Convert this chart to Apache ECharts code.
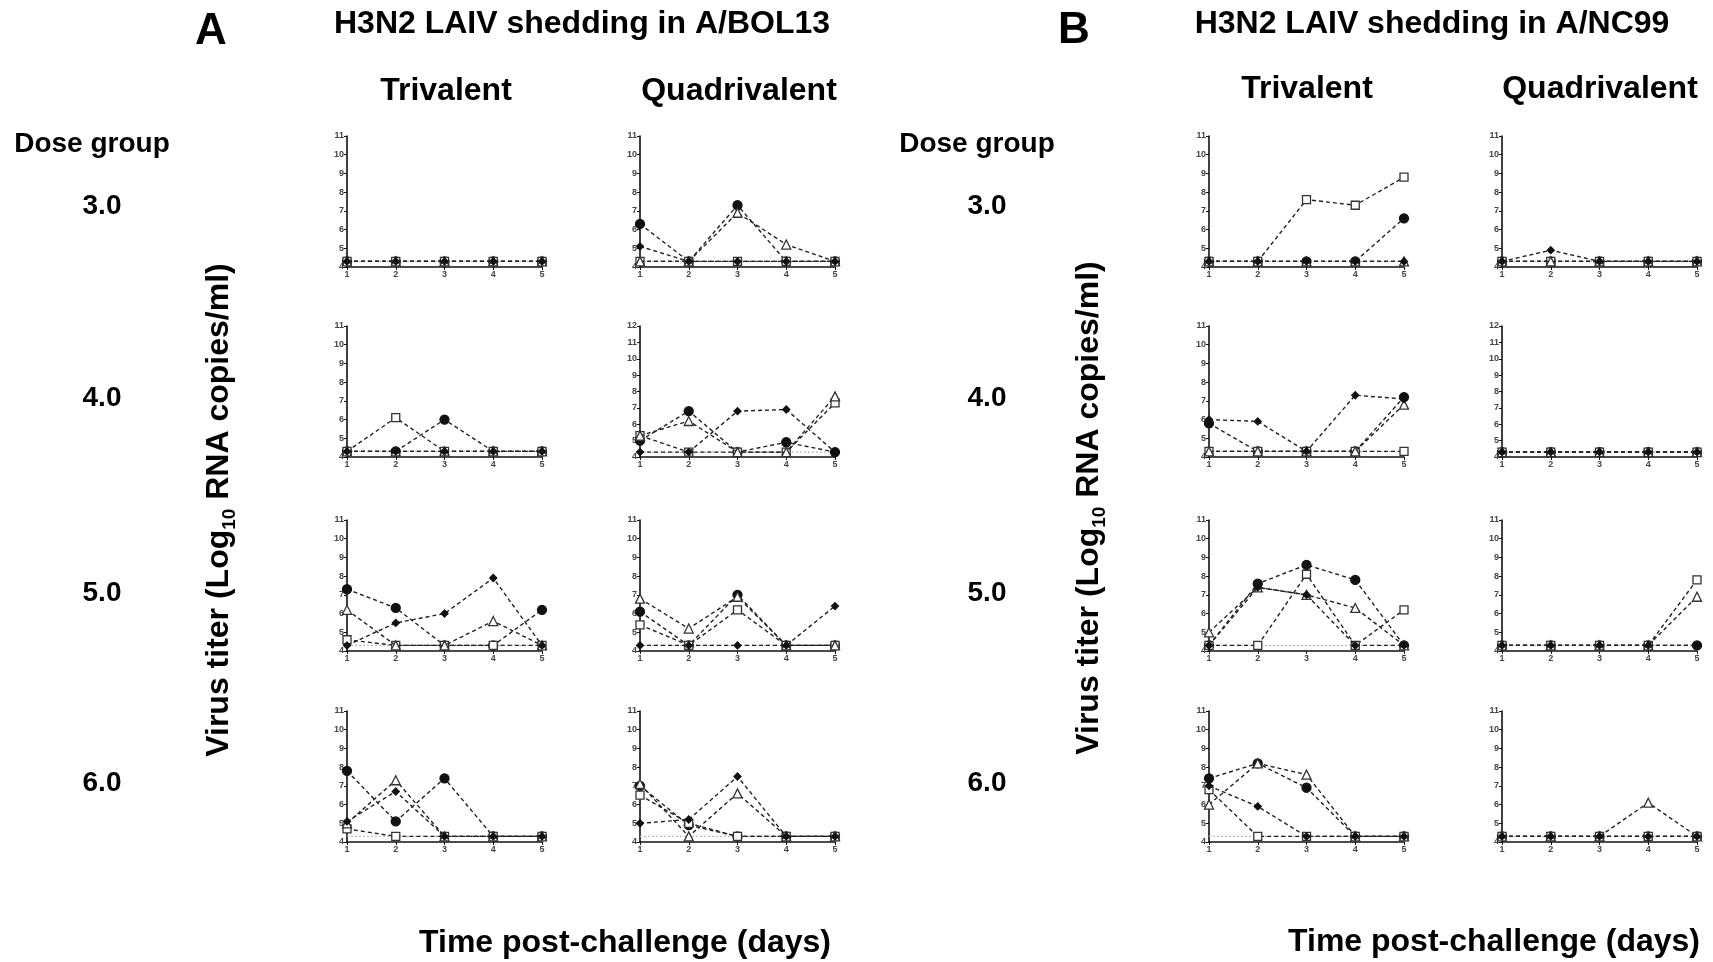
<!DOCTYPE html>
<html>
<head>
<meta charset="utf-8">
<script src="https://cdn.jsdelivr.net/npm/echarts@6/dist/echarts.min.js"></script>
<style>
html,body{margin:0;padding:0;background:#fff;}
#chart{width:1713px;height:962px;}
</style>
</head>
<body>
<div id="chart"></div>
<script>
// ---- Data: days post-challenge and virus titers (log10 RNA copies/ml) ----
// Each panel: rows = animals in order [filled circle, open square, open triangle, filled diamond]
const days = [1, 2, 3, 4, 5];
const LOD = 4.3;

const bolTri30 = [
  [4.3, 4.3, 4.3, 4.3, 4.3],
  [4.3, 4.3, 4.3, 4.3, 4.3],
  [4.3, 4.3, 4.3, 4.3, 4.3],
  [4.3, 4.3, 4.3, 4.3, 4.3]];
const bolQuad30 = [
  [6.3, 4.3, 7.3, 4.3, 4.3],
  [4.3, 4.3, 4.3, 4.3, 4.3],
  [4.3, 4.3, 6.9, 5.2, 4.3],
  [5.1, 4.3, 4.3, 4.3, 4.3]];
const bolTri40 = [
  [4.3, 4.3, 6.0, 4.3, 4.3],
  [4.3, 6.1, 4.3, 4.3, 4.3],
  [4.3, 4.3, 4.3, 4.3, 4.3],
  [4.3, 4.3, 4.3, 4.3, 4.3]];
const bolQuad40 = [
  [5.0, 6.8, 4.3, 4.9, 4.3],
  [5.3, 4.3, 4.3, 4.3, 7.3],
  [5.3, 6.2, 4.3, 4.3, 7.7],
  [4.3, 4.3, 6.8, 6.9, 4.3]];
const bolTri50 = [
  [7.3, 6.3, 4.3, 4.3, 6.2],
  [4.6, 4.3, 4.3, 4.3, 4.3],
  [6.2, 4.3, 4.3, 5.6, 4.3],
  [4.3, 5.5, 6.0, 7.9, 4.3]];
const bolQuad50 = [
  [6.1, 4.3, 7.0, 4.3, 4.3],
  [5.4, 4.3, 6.2, 4.3, 4.3],
  [6.8, 5.2, 6.9, 4.3, 4.3],
  [4.3, 4.3, 4.3, 4.3, 6.4]];
const bolTri60 = [
  [7.8, 5.1, 7.4, 4.3, 4.3],
  [4.7, 4.3, 4.3, 4.3, 4.3],
  [5.0, 7.3, 4.3, 4.3, 4.3],
  [5.1, 6.7, 4.3, 4.3, 4.3]];
const bolQuad60 = [
  [7.0, 4.9, 4.3, 4.3, 4.3],
  [6.5, 5.0, 4.3, 4.3, 4.3],
  [7.1, 4.3, 6.6, 4.3, 4.3],
  [5.0, 5.2, 7.5, 4.3, 4.3]];

const ncTri30 = [
  [4.3, 4.3, 4.3, 4.3, 6.6],
  [4.3, 4.3, 7.6, 7.3, 8.8],
  [4.3, 4.3, 4.3, 4.3, 4.3],
  [4.3, 4.3, 4.3, 4.3, 4.3]];
const ncQuad30 = [
  [4.3, 4.3, 4.3, 4.3, 4.3],
  [4.3, 4.3, 4.3, 4.3, 4.3],
  [4.3, 4.3, 4.3, 4.3, 4.3],
  [4.3, 4.9, 4.3, 4.3, 4.3]];
const ncTri40 = [
  [5.8, 4.3, 4.3, 4.3, 7.2],
  [4.3, 4.3, 4.3, 4.3, 4.3],
  [4.3, 4.3, 4.3, 4.3, 6.8],
  [6.0, 5.9, 4.3, 7.3, 7.1]];
const ncQuad40 = [
  [4.3, 4.3, 4.3, 4.3, 4.3],
  [4.3, 4.3, 4.3, 4.3, 4.3],
  [4.3, 4.3, 4.3, 4.3, 4.3],
  [4.3, 4.3, 4.3, 4.3, 4.3]];
const ncTri50 = [
  [4.3, 7.6, 8.6, 7.8, 4.3],
  [4.3, 4.3, 8.1, 4.3, 6.2],
  [5.0, 7.4, 7.0, 6.3, 4.3],
  [4.3, 7.4, 7.0, 4.3, 4.3]];
const ncQuad50 = [
  [4.3, 4.3, 4.3, 4.3, 4.3],
  [4.3, 4.3, 4.3, 4.3, 7.8],
  [4.3, 4.3, 4.3, 4.3, 6.9],
  [4.3, 4.3, 4.3, 4.3, 4.3]];
const ncTri60 = [
  [7.4, 8.2, 6.9, 4.3, 4.3],
  [6.8, 4.3, 4.3, 4.3, 4.3],
  [6.0, 8.2, 7.6, 4.3, 4.3],
  [7.0, 5.9, 4.3, 4.3, 4.3]];
const ncQuad60 = [
  [4.3, 4.3, 4.3, 4.3, 4.3],
  [4.3, 4.3, 4.3, 4.3, 4.3],
  [4.3, 4.3, 4.3, 6.1, 4.3],
  [4.3, 4.3, 4.3, 4.3, 4.3]];

const doseLabels = ['3.0', '4.0', '5.0', '6.0'];

// ---- Layout ----
const colLeft = [347, 640, 1209, 1502];
const rowTop = [136, 326, 520, 711];
const gW = 195, gH = 131;

const panelGrid = [
  [bolTri30, bolQuad30, ncTri30, ncQuad30],
  [bolTri40, bolQuad40, ncTri40, ncQuad40],
  [bolTri50, bolQuad50, ncTri50, ncQuad50],
  [bolTri60, bolQuad60, ncTri60, ncQuad60]
];

const markerStyles = [
  {symbol: 'circle', size: 9, fill: '#111', border: '#111'},
  {symbol: 'rect', size: 8, fill: '#fff', border: '#333'},
  {symbol: 'triangle', size: 9, fill: '#fff', border: '#333'},
  {symbol: 'diamond', size: 7, fill: '#111', border: '#111'}
];
const drawOrder = [1, 2, 3, 0];

const grids = [], xAxes = [], yAxes = [], series = [];
const FONT = '"Liberation Sans", Arial, sans-serif';
let gi = 0;
for (let r = 0; r < 4; r++) {
  for (let c = 0; c < 4; c++) {
    const data = panelGrid[r][c];
    const ymax = (r === 1 && (c === 1 || c === 3)) ? 12 : 11;
    grids.push({left: colLeft[c], top: rowTop[r], width: gW, height: gH, containLabel: false});
    xAxes.push({
      type: 'value', gridIndex: gi, min: 1, max: 5, interval: 1,
      axisLine: {show: true, lineStyle: {color: '#111', width: 1.6}},
      axisTick: {show: true, length: 3, lineStyle: {color: '#111', width: 1}},
      axisLabel: {fontSize: 9, fontWeight: 'bold', color: '#444', margin: 3, fontFamily: FONT},
      splitLine: {show: false}
    });
    yAxes.push({
      type: 'value', gridIndex: gi, min: 4, max: ymax, interval: 1,
      axisLine: {show: true, lineStyle: {color: '#111', width: 1.6}},
      axisTick: {show: true, length: 3, lineStyle: {color: '#111', width: 1}},
      axisLabel: {fontSize: 9, fontWeight: 'bold', color: '#444', margin: 3, fontFamily: FONT},
      splitLine: {show: false}
    });
    series.push({
      type: 'line', xAxisIndex: gi, yAxisIndex: gi, silent: true, z: 1,
      data: days.map(d => [d, LOD]), symbol: 'none',
      lineStyle: {color: '#bbb', width: 1.3, type: [2, 2]}
    });
    drawOrder.forEach(k => {
      const m = markerStyles[k];
      series.push({
        type: 'line', xAxisIndex: gi, yAxisIndex: gi, z: 2 + k,
        data: days.map((d, i) => [d, data[k][i]]),
        symbol: m.symbol, symbolSize: m.size, showSymbol: true,
        itemStyle: {color: m.fill, borderColor: m.border, borderWidth: 1.3},
        lineStyle: {color: '#222', width: 1.4, type: [4, 3]},
        animation: false
      });
    });
    gi++;
  }
}

function txt(x, y, text, size) {
  return {
    type: 'text', x: x, y: y,
    style: {text: text, font: 'bold ' + size + 'px ' + FONT, fill: '#000',
      textAlign: 'center', textVerticalAlign: 'middle', align: 'center', verticalAlign: 'middle'}
  };
}

function yTitle(x, y) {
  return {
    type: 'text', x: x, y: y, rotation: Math.PI / 2,
    style: {
      text: '{m|Virus titer (Log}{s|10}{m| RNA copies/ml)}',
      textAlign: 'center', textVerticalAlign: 'middle', align: 'center', verticalAlign: 'middle',
      rich: {
        m: {font: 'bold 32px ' + FONT, fill: '#000', lineHeight: 40},
        s: {font: 'bold 19px ' + FONT, fill: '#000', lineHeight: 22, verticalAlign: 'bottom'}
      }
    }
  };
}

const graphics = [
  txt(211, 32, 'A', 44),
  txt(582, 24, 'H3N2 LAIV shedding in A/BOL13', 32),
  txt(446, 91, 'Trivalent', 32),
  txt(739, 91, 'Quadrivalent', 32),
  txt(92, 144, 'Dose group', 28),
  txt(1074, 31, 'B', 44),
  txt(1432, 24, 'H3N2 LAIV shedding in A/NC99', 32),
  txt(1307, 89, 'Trivalent', 32),
  txt(1600, 89, 'Quadrivalent', 32),
  txt(977, 144, 'Dose group', 28),
  txt(625, 943, 'Time post-challenge (days)', 32),
  txt(1494, 942, 'Time post-challenge (days)', 32),
  yTitle(219, 510),
  yTitle(1089, 508)
];
const doseY = [206, 398, 593, 783];
doseLabels.forEach((t, i) => {
  graphics.push(txt(102, doseY[i], t, 28));
  graphics.push(txt(987, doseY[i], t, 28));
});

const chart = echarts.init(document.getElementById('chart'), null, {renderer: 'canvas'});
chart.setOption({
  animation: false,
  backgroundColor: '#fff',
  grid: grids, xAxis: xAxes, yAxis: yAxes, series: series,
  graphic: {elements: graphics}
});
</script>
</body>
</html>
